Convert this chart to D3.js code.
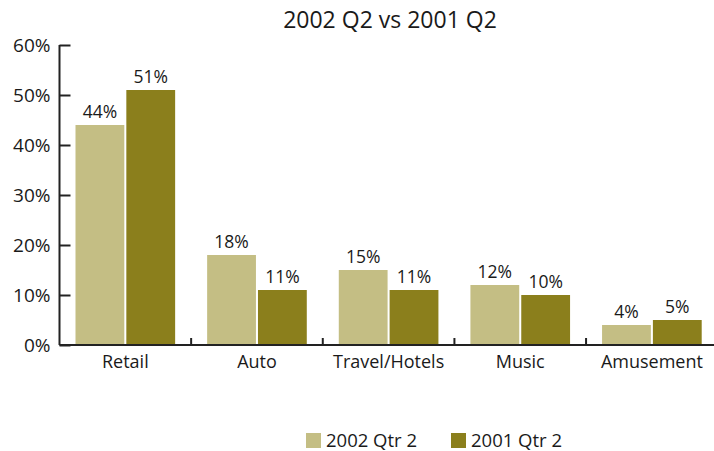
<!DOCTYPE html>
<html><head><meta charset="utf-8">
<script src="https://cdn.jsdelivr.net/npm/d3@7"></script>
<style>
body{margin:0;background:#fff;}
svg text{font-family:"Open Sans",sans-serif;fill:#1a1a1a;}
</style></head>
<body><svg id="c" width="714" height="451"></svg>
<script>
const categories = ["Retail","Auto","Travel/Hotels","Music","Amusement"];
const seriesNames = ["2002 Qtr 2","2001 Qtr 2"];
const values2002 = [44,18,15,12,4];
const values2001 = [51,11,11,10,5];
const yTicks = [0,10,20,30,40,50,60];
const colors = ["#c4be84","#8b7f1c"];

const svg = d3.select("#c");
const mLeft = 59.5, mRight = 717.7, mTop = 45, mBottom = 345;
const x = d3.scaleBand().domain(categories).range([mLeft, mRight]).paddingInner(0).paddingOuter(0);
const xs = d3.scaleBand().domain(seriesNames).range([16, x.bandwidth()-16]).paddingInner(0.04);
const y = d3.scaleLinear().domain([0,60]).range([mBottom, mTop]);

svg.append("text").attr("x",390).attr("y",28).attr("text-anchor","middle")
  .style("font-size","23px").text("2002 Q2 vs 2001 Q2");

const data = categories.map((c,i)=>({c, v:[values2002[i], values2001[i]]}));
const g = svg.append("g");
data.forEach(d=>{
  d.v.forEach((v,j)=>{
    const bx = x(d.c)+xs(seriesNames[j]);
    g.append("rect").attr("x",bx).attr("y",y(v)).attr("width",xs.bandwidth())
      .attr("height",y(0)-y(v)).attr("fill",colors[j]);
    g.append("text").attr("x",bx+xs.bandwidth()/2).attr("y",y(v)-7)
      .attr("text-anchor","middle").style("font-size","17.5px").text(v+"%");
  });
});

// y axis
const ya = svg.append("g").attr("transform",`translate(${mLeft},0)`)
  .call(d3.axisRight(y).tickValues(yTicks).tickSize(11).tickFormat(d=>d+"%"));
ya.select(".domain").attr("stroke","#222").attr("stroke-width",2).attr("d",`M0,${mTop}V${mBottom}`);
ya.selectAll(".tick line").attr("stroke","#222").attr("stroke-width",2);
ya.selectAll(".tick text").attr("x",-9).attr("text-anchor","end").attr("dy","0.36em")
  .style("font-size","19px").attr("fill","#1a1a1a");

// x axis
const xa = svg.append("g").attr("transform",`translate(0,${mBottom})`)
  .call(d3.axisBottom(x).tickSize(0));
xa.select(".domain").attr("stroke","#222").attr("stroke-width",2).attr("d",`M${mLeft},0H${mRight}`);
xa.selectAll(".tick text").attr("y",23).attr("dy",0).style("font-size","18px").attr("fill","#1a1a1a");
const bounds = categories.slice(1).map(c=>x(c));
xa.selectAll("line.sep").data(bounds).enter().append("line").attr("class","sep")
  .attr("x1",d=>d).attr("x2",d=>d).attr("y1",0).attr("y2",-7).attr("stroke","#222").attr("stroke-width",2);

// legend
const legX = [306, 451];
const lg = svg.append("g");
seriesNames.forEach((s,j)=>{
  lg.append("rect").attr("x",legX[j]).attr("y",433).attr("width",15).attr("height",15).attr("fill",colors[j]);
  lg.append("text").attr("x",legX[j]+20).attr("y",447).style("font-size","18.5px").text(s);
});
</script></body></html>
